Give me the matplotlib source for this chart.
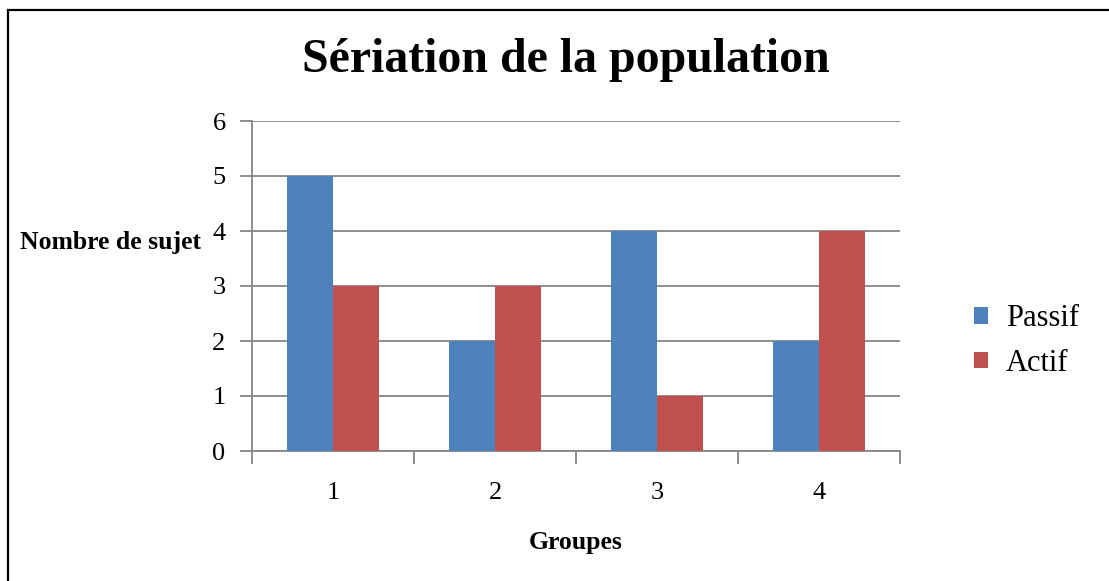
import matplotlib
matplotlib.use("Agg")
import matplotlib.pyplot as plt
from matplotlib.patches import Rectangle
import numpy as np

categories = ["1", "2", "3", "4"]
passif = [5, 2, 4, 2]
actif = [3, 3, 1, 4]
series_names = ["Passif", "Actif"]
colors = ["#4F81BD", "#C0504D"]

plt.rcParams['font.family'] = ['Liberation Serif', 'DejaVu Serif']

W, H = 1109, 581
fig = plt.figure(figsize=(W / 100, H / 100), dpi=100)
ax = fig.add_axes([252 / W, 1 - 451 / H, (900 - 252) / W, (451 - 121) / H])

x = np.arange(1, len(categories) + 1)
bw = 1 / 3.5
ax.bar(x - bw / 2, passif, bw, color=colors[0], label=series_names[0], zorder=3)
ax.bar(x + bw / 2, actif, bw, color=colors[1], label=series_names[1], zorder=3)

ax.set_xlim(0.5, 4.5)
ax.set_ylim(0, 6)
ax.set_yticks(range(0, 7))
ax.set_xticks(x)
ax.set_xticklabels(categories)
ax.set_xticks(np.arange(0.5, 4.6, 1), minor=True)
ax.tick_params(axis='x', which='major', length=0, pad=22, labelsize=19)
ax.tick_params(axis='x', which='minor', length=9, width=1.3, color='#868686', direction='out')
ax.tick_params(axis='y', length=9, width=1.3, color='#868686', direction='out', labelsize=19, pad=10)
ax.grid(axis='y', color='#868686', linewidth=1.3, zorder=0)
for s in ['top', 'right']:
    ax.spines[s].set_visible(False)
for s in ['left', 'bottom']:
    ax.spines[s].set_color('#868686')
    ax.spines[s].set_linewidth(1.3)

fig.text(566 / W, 1 - 60 / H, "Sériation de la population", ha='center', va='center',
         fontsize=34.5, fontweight='bold')
fig.text(110 / W, 1 - 243 / H, "Nombre de sujet", ha='center', va='center',
         fontsize=18.5, fontweight='bold')
fig.text(576 / W, 1 - 543 / H, "Groupes", ha='center', va='center',
         fontsize=18.5, fontweight='bold')

fig.legend(loc='center left', bbox_to_anchor=(974 / W, 1 - 341 / H), frameon=False,
           fontsize=22, handlelength=0.45, handleheight=0.45, handletextpad=0.6,
           labelspacing=0.5, borderpad=0, borderaxespad=0)

fig.patches.append(Rectangle((8 / W, -0.1), 1.2, 1 - 10 / H + 0.1, transform=fig.transFigure,
                             fill=False, edgecolor='black', linewidth=1.6))

fig.savefig("out.png", dpi=100)
